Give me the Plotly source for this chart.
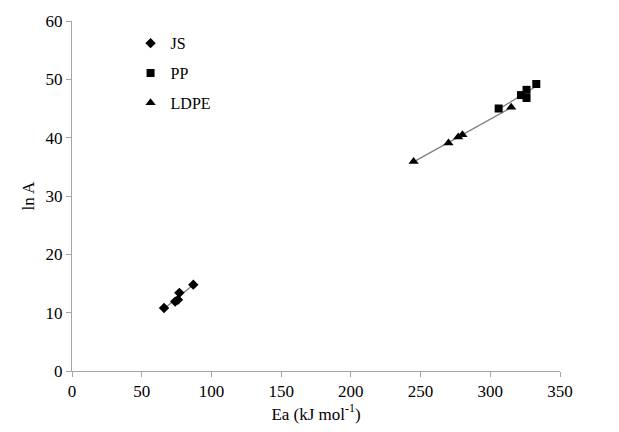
import numpy as np
import plotly.graph_objects as go

# Data
js_ea = [66, 74, 76, 77, 87]
js_lna = [10.8, 11.9, 12.2, 13.4, 14.8]

pp_ea = [306, 322, 326, 326, 333]
pp_lna = [45.0, 47.3, 48.2, 46.8, 49.2]

ldpe_ea = [245, 270, 277, 280, 315]
ldpe_lna = [35.9, 39.1, 40.1, 40.5, 45.2]

x_ticks = [0, 50, 100, 150, 200, 250, 300, 350]
y_ticks = [0, 10, 20, 30, 40, 50, 60]

FONT = "Liberation Serif"
LINE_COLOR = "#7f7f7f"

fig = go.Figure()


def add_trend(xs, ys):
    k, b = np.polyfit(xs, ys, 1)
    xr = np.array([min(xs), max(xs)], dtype=float)
    fig.add_trace(go.Scatter(x=xr, y=k * xr + b, mode="lines",
                             line=dict(color=LINE_COLOR, width=1.3),
                             showlegend=False, hoverinfo="skip"))


add_trend(js_ea, js_lna)
add_trend(pp_ea, pp_lna)
add_trend(ldpe_ea, ldpe_lna)

fig.add_trace(go.Scatter(x=js_ea, y=js_lna, mode="markers", name="JS", legendgroup="js",
                         marker=dict(symbol="diamond", size=8, color="black")))
fig.add_trace(go.Scatter(x=pp_ea, y=pp_lna, mode="markers", name="PP", legendgroup="pp",
                         marker=dict(symbol="square", size=8, color="black")))
fig.add_trace(go.Scatter(x=ldpe_ea, y=ldpe_lna, mode="markers", name="LDPE", legendgroup="ldpe",
                         marker=dict(symbol="triangle-up", size=9, color="black")))

axis_common = dict(showgrid=False, zeroline=False, showline=True,
                   linecolor="#a6a6a6", linewidth=1, ticks="outside",
                   ticklen=5, tickcolor="#a6a6a6",
                   tickfont=dict(family=FONT, size=17, color="black"))

fig.update_layout(
    width=619, height=432,
    margin=dict(l=72, r=59, t=12, b=61),
    paper_bgcolor="white", plot_bgcolor="white",
    font=dict(family=FONT, size=16, color="black"),
    xaxis=dict(range=[0, 350], tickvals=x_ticks,
               title=dict(text="Ea (kJ mol<sup>-1</sup>)", font=dict(family=FONT, size=17), standoff=0),
               **axis_common),
    yaxis=dict(range=[0, 60], tickvals=y_ticks,
               title=dict(text="ln A", font=dict(family=FONT, size=17), standoff=6),
               **axis_common),
    legend=dict(x=0.12, y=0.985, xanchor="left", yanchor="top",
                bgcolor="rgba(0,0,0,0)", font=dict(family=FONT, size=16),
                tracegroupgap=6, itemwidth=30),
)

fig.write_html("out.html")
